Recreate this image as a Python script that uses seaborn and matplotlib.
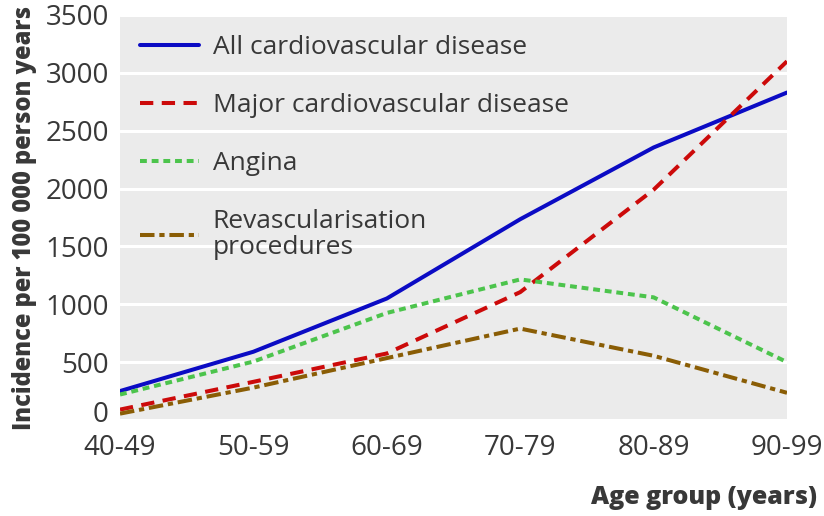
import pandas as pd
import seaborn as sns
import matplotlib.pyplot as plt
import matplotlib.transforms as mtrans

# datos
age_groups = ['40-49', '50-59', '60-69', '70-79', '80-89', '90-99']
all_cvd = [250, 590, 1050, 1735, 2355, 2830]
major_cvd = [90, 330, 575, 1105, 1990, 3100]
angina = [220, 505, 925, 1215, 1060, 500]
revasc = [55, 280, 535, 790, 555, 235]

series_names = ['All cardiovascular disease', 'Major cardiovascular disease',
                'Angina', 'Revascularisation\nprocedures']

rows = []
for name, vals in zip(series_names, [all_cvd, major_cvd, angina, revasc]):
    for i, v in enumerate(vals):
        rows.append({'pos': i, 'Incidence': v, 'serie': name})
df = pd.DataFrame(rows)

sns.set_style("darkgrid", {'axes.facecolor': '#ebebeb', 'grid.color': 'white'})
plt.rcParams['font.family'] = ['Open Sans', 'DejaVu Sans']

colores = {series_names[0]: '#0b0bc4', series_names[1]: '#cc0a0a',
           series_names[2]: '#4cc44c', series_names[3]: '#8a5d05'}
guiones = {series_names[0]: '', series_names[1]: (3.3, 2.1),
           series_names[2]: (1.7, 1.2), series_names[3]: (3.6, 1.2, 1.3, 1.2)}

fig = plt.figure(figsize=(8.24, 5.16), dpi=100)
ax = fig.add_axes([120 / 824, 96 / 516, 667 / 824, 405 / 516])

sns.lineplot(data=df, x='pos', y='Incidence', hue='serie', style='serie',
             palette=colores, dashes=guiones, linewidth=2.9, ax=ax)

ax.set_xlim(0, 5)
ax.set_ylim(0, 3500)
ax.set_xticks(range(len(age_groups)))
ax.set_xticklabels(age_groups)
ax.set_yticks(range(0, 3501, 500))
ax.grid(axis='x', visible=False)
ax.grid(axis='y', linewidth=2.2)
for s in ax.spines.values():
    s.set_visible(False)

ax.tick_params(axis='y', length=0, pad=8, labelsize=20, labelcolor='#383838')
ax.tick_params(axis='x', direction='in', length=6, width=2, color='white',
               pad=10, labelsize=20, labelcolor='#383838')

# el "0" va un poco mas arriba para no chocar con "40-49"
lab0 = ax.get_yticklabels()[0]
lab0.set_transform(lab0.get_transform() +
                   mtrans.ScaledTranslation(0, 8 / 100, fig.dpi_scale_trans))

ax.set_xlabel('')
ax.set_ylabel('Incidence per 100 000 person years', fontsize=17,
              fontweight='heavy', color='#383838', labelpad=6)
fig.text(0.992, 0.012, 'Age group (years)', ha='right', va='bottom',
         fontsize=18, fontweight='heavy', color='#383838')

handles, labels = ax.get_legend_handles_labels()
leg = ax.legend(handles, labels, loc='upper left', bbox_to_anchor=(0.03, 0.95),
                frameon=False, fontsize=19, handlelength=2.25, handletextpad=0.5,
                labelspacing=1.25, borderpad=0, borderaxespad=0,
                labelcolor='#383838')
for t in leg.get_texts():
    t.set_linespacing(1.05)

plt.savefig('out.png', dpi=100)
